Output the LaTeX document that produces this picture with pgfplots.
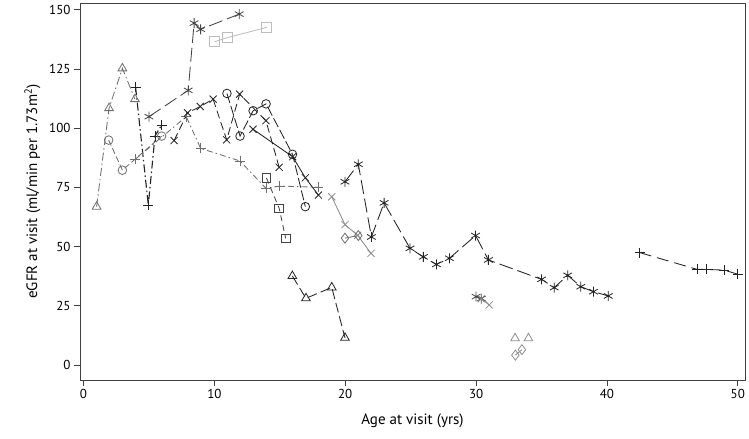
\documentclass[border=0pt]{standalone}
\usepackage{pgfplots}
\pgfplotsset{compat=1.18}
\usepackage{fontspec}
\setmainfont{PT Sans}
\definecolor{cBlack}{HTML}{222222}
\definecolor{cDark}{HTML}{444444}
\definecolor{cMid}{HTML}{6E6E6E}
\definecolor{cGray}{HTML}{8C8C8C}
\definecolor{cLight}{HTML}{BDBDBD}
\begin{document}
\begin{tikzpicture}
\begin{axis}[
  scale only axis, width=665pt, height=377pt,
  xmin=-0.27, xmax=50.55, ymin=-6.3, ymax=152.9,
  xtick={0,10,20,30,40,50}, ytick={0,25,50,75,100,125,150},
  tick align=outside, tick pos=left, major tick length=6pt,
  axis line style={line width=0.9pt, black!75},
  tick style={line width=0.9pt, black!75},
  /pgf/number format/assume math mode=true,
  ticklabel style={font=\fontsize{13}{15}\selectfont},
  label style={font=\fontsize{15}{17}\selectfont},
  xlabel={Age at visit (yrs)}, ylabel={eGFR at visit (ml/min per 1.73m\textsuperscript{2})},
  xlabel style={yshift=-8pt}, ylabel style={yshift=2pt},
  every axis plot/.append style={line width=0.85pt, mark size=5pt, mark options={solid, line width=0.8pt}},
  clip=false,
]
% light gray squares
\addplot[cLight, solid, mark=square] coordinates {(10,136.5) (11,138.3) (14,142.6)};
% gray asterisks top
\addplot[cDark, dash pattern=on 14pt off 5pt, mark=asterisk] coordinates {(5,104.9) (8,116) (8.45,144.4) (8.95,141.8) (11.9,148.2)};
% gray triangles early
\addplot[cMid, dash pattern=on 8pt off 3pt on 1.5pt off 3pt, mark=triangle] coordinates {(1,66.9) (1.95,108.5) (2.97,125.3) (3.93,112.3)};
% black pluses early
\addplot[cBlack, line width=1.1pt, dash pattern=on 8pt off 3pt on 1.5pt off 3pt, mark=+] coordinates {(3.98,117.3) (4.95,67.6) (5.46,96.7) (5.97,101.4)};
% gray circles early
\addplot[cMid, dash pattern=on 6pt off 3pt, mark=o, mark size=4.3pt] coordinates {(1.92,95) (2.97,82.3) (5.97,96.7)};
% gray pluses
\addplot[cMid, dash pattern=on 6pt off 3pt on 1.5pt off 3pt, mark=+] coordinates {(3.95,86.9) (7.85,104.9) (8.95,91.5) (11.95,86.2) (13.95,74.6) (15,75.6) (17.95,75.1)};
% black crosses 1
\addplot[cBlack, dash pattern=on 8pt off 4pt, mark=x] coordinates {(6.92,94.8) (7.95,106.5) (8.92,109.2) (9.9,112.3) (10.94,95.1) (11.93,114.4) (13.94,103.2) (14.95,83.5)};
% black crosses 2
\addplot[cBlack, solid, mark=x] coordinates {(12.95,99.6) (15.98,88) (16.95,79.1) (17.95,71.8)};
% black circles
\addplot[cBlack, dash pattern=on 10pt off 3pt, mark=o, mark size=4.3pt] coordinates {(10.96,114.7) (11.96,96.7) (12.96,107.4) (13.95,110.3) (15.97,89) (16.95,66.9)};
% gray squares
\addplot[cDark, dash pattern=on 6pt off 4pt, mark=square, mark size=4.3pt] coordinates {(13.98,79) (14.95,66.2) (15.45,53.5)};
% gray crosses
\addplot[cGray, solid, mark=x] coordinates {(18.97,71.1) (19.98,59.3) (20.95,54.8) (21.97,47.2)};
% gray diamonds
\addplot[cMid, solid, mark=diamond] coordinates {(19.98,53.6) (21,54.7)};
% black triangles
\addplot[cBlack, dash pattern=on 10pt off 4pt, mark=triangle] coordinates {(15.96,37.6) (17,28.2) (18.97,32.8) (19.98,11.5)};
% black asterisks long
\addplot[cBlack, dash pattern=on 14pt off 5pt, mark=asterisk] coordinates {(19.98,77.4) (21,84.8) (22,54.1) (22.97,68.5) (24.95,49.3) (25.97,45.7) (26.97,42.5) (27.96,45.1) (29.96,54.7) (30.94,44.4) (35,36.2) (35.97,32.7) (37,37.9) (38,33.1) (38.97,31) (40.1,29.2)};
% dark cluster at 30
\addplot[cDark, solid, mark=asterisk] coordinates {(30,28.9) (30.4,28.1)};
\addplot[cGray, solid, mark=x] coordinates {(30.4,28) (31,25.4)};
% gray triangles late
\addplot[cGray, only marks, mark=triangle] coordinates {(32.98,11.3) (34,11.3)};
\addplot[cGray, solid, mark=diamond] coordinates {(33,4.2) (33.5,6.5)};
% black pluses right
\addplot[cBlack, dash pattern=on 12pt off 6pt, mark=+] coordinates {(42.5,47.5) (46.9,40.4) (47.6,40.4) (48.96,40.1) (49.98,38.4)};
\end{axis}
\pgfresetboundingbox
\path[use as bounding box] ([shift={(-80pt,-59pt)}]current axis.south west) rectangle ([shift={(4pt,3pt)}]current axis.north east);
\end{tikzpicture}
\end{document}
